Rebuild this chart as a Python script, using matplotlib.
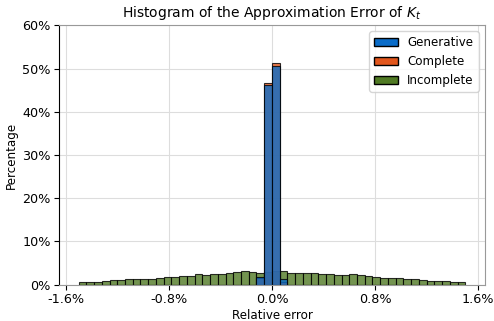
import matplotlib
matplotlib.use("Agg")
import matplotlib.pyplot as plt
from matplotlib.patches import Patch
from matplotlib.ticker import FuncFormatter
import numpy as np

# 50 bins between -1.5% and 1.5% (values in percent)
bin_edges = np.linspace(-1.5, 1.5, 51)
bin_centers = (bin_edges[:-1] + bin_edges[1:]) / 2

incomplete = [0.54, 0.54, 0.70, 0.77, 1.00, 1.08, 1.23, 1.23, 1.31, 1.31,
              1.62, 1.85, 1.70, 2.00, 2.00, 2.47, 2.16, 2.47, 2.47, 2.78,
              3.00, 3.09, 2.85, 2.78, 3.00, 3.10,
              3.16, 2.70, 2.62, 2.62, 2.62, 2.55, 2.40, 2.24, 2.24, 2.40,
              2.24, 1.93, 1.70, 1.62, 1.62, 1.47, 1.31, 1.31, 1.08, 0.93,
              0.93, 0.77, 0.70, 0.54]
generative = [0] * 23 + [1.8, 46.3, 50.7, 1.3] + [0] * 23
complete = [0] * 23 + [1.5, 46.7, 51.2, 0.6] + [0] * 23

labels = ['Generative', 'Complete', 'Incomplete']
colors = ['#0a6cc8', '#e2561c', '#507a24']

plt.rcParams['font.size'] = 8.6

fig = plt.figure(figsize=(4.94, 3.21), dpi=100)
ax = fig.add_axes([0.120, 0.113, 0.861, 0.808])

# drawn back to front so generative sits on top
for data, col in [(incomplete, colors[2]), (complete, colors[1]),
                  (generative, colors[0])]:
    ax.hist(bin_centers, bins=bin_edges, weights=data, color=col, alpha=0.8,
            edgecolor='black', linewidth=0.8, zorder=2)

ax.set_xlim(-1.65, 1.65)
ax.set_ylim(0, 60)
ax.set_xticks([-1.6, -0.8, 0.0, 0.8, 1.6])
ax.xaxis.set_major_formatter(FuncFormatter(lambda v, p: '%.1f%%' % v))
ax.yaxis.set_major_formatter(FuncFormatter(lambda v, p: '%d%%' % v))
ax.tick_params(labelsize=9.2, pad=2.5)
ax.grid(True, color='#dddddd', linewidth=0.8, zorder=0)
ax.set_axisbelow(True)
for side in ['top', 'right', 'bottom']:
    ax.spines[side].set_color('#999999')
ax.spines['left'].set_color('black')

ax.set_title('Histogram of the Approximation Error of $K_t$', fontsize=10)
ax.set_xlabel('Relative error', labelpad=2)
ax.set_ylabel('Percentage', labelpad=3)

handles = [Patch(facecolor=c, edgecolor='black', label=l)
           for c, l in zip(colors, labels)]
ax.legend(handles=handles, loc='upper right')

fig.savefig('out.png', dpi=100)
